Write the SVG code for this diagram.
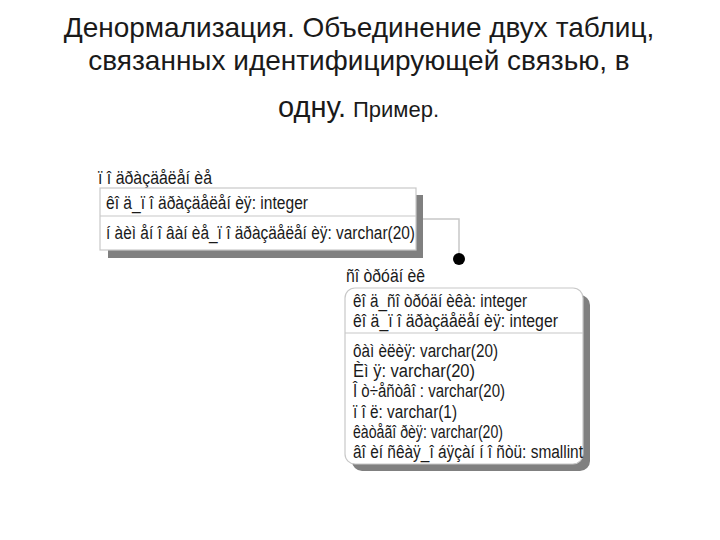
<svg xmlns="http://www.w3.org/2000/svg" width="720" height="540" viewBox="0 0 720 540">
<style>
.ttl{font-family:"Liberation Sans",Arial,sans-serif;font-size:28px;fill:#1a1a1a;text-anchor:middle}
.t{font-family:"Liberation Sans",Arial,sans-serif;font-size:18px;fill:#1a1a1a}
.box{fill:#ffffff;stroke:#c8c8c8;stroke-width:1.2}
.sh{fill:#808080}
.div{stroke:#c8c8c8;stroke-width:1.2}
.conn{fill:none;stroke:#c8c8c8;stroke-width:1.5}
</style>
<rect width="720" height="540" fill="#ffffff"/>
<g id="title">
<text class="ttl" x="359" y="37">Денормализация. Объединение двух таблиц,</text>
<text class="ttl" x="359" y="70">связанных идентифицирующей связью, в</text>
<text x="278" y="117" font-family="'Liberation Sans',Arial,sans-serif" font-size="29" fill="#1a1a1a">одну.</text>
<text x="353" y="117" font-family="'Liberation Sans',Arial,sans-serif" font-size="22" fill="#1a1a1a">Пример.</text>
</g>
<g id="connectors">
<polyline class="conn" points="423,219 459,219 459,258"/>
<circle cx="459" cy="259" r="6" fill="#000"/>
</g>
<g id="podrazdelenie">
<text class="t" x="98" y="184" textLength="114" lengthAdjust="spacingAndGlyphs">ï î äðàçäåëåí èå</text>
<rect class="sh" x="108" y="195" width="315" height="63"/>
<rect class="box" x="100" y="188" width="316" height="62"/>
<line class="div" x1="100" y1="216" x2="416" y2="216"/>
<text class="t" x="106" y="209" textLength="202" lengthAdjust="spacingAndGlyphs">êî ä_ï î äðàçäåëåí èÿ: integer</text>
<text class="t" x="106" y="239" textLength="309" lengthAdjust="spacingAndGlyphs">í àèì  åí î âàí èå_ï î äðàçäåëåí èÿ: varchar(20)</text>
</g>
<g id="sotrudnik">
<text class="t" x="346" y="282" textLength="79" lengthAdjust="spacingAndGlyphs">ñî òðóäí èê</text>
<rect class="sh" x="352" y="295" width="238" height="176" rx="10"/>
<rect class="box" x="345" y="288" width="238" height="176" rx="10"/>
<line class="div" x1="345" y1="333" x2="583" y2="333"/>
<text class="t" x="353" y="307" textLength="174" lengthAdjust="spacingAndGlyphs">êî ä_ñî òðóäí èêà: integer</text>
<text class="t" x="353" y="327" textLength="205" lengthAdjust="spacingAndGlyphs">êî ä_ï î äðàçäåëåí èÿ: integer</text>
<text class="t" x="353" y="357" textLength="145" lengthAdjust="spacingAndGlyphs">ôàì  èëèÿ: varchar(20)</text>
<text class="t" x="353" y="377" textLength="122" lengthAdjust="spacingAndGlyphs">Èì  ÿ: varchar(20)</text>
<text class="t" x="353" y="397" textLength="152" lengthAdjust="spacingAndGlyphs">Î ò÷åñòâî : varchar(20)</text>
<text class="t" x="353" y="418" textLength="104" lengthAdjust="spacingAndGlyphs">ï î ë: varchar(1)</text>
<text class="t" x="353" y="438" textLength="150" lengthAdjust="spacingAndGlyphs">êàòåãî ðèÿ: varchar(20)</text>
<text class="t" x="353" y="458" textLength="230" lengthAdjust="spacingAndGlyphs">âî èí ñêàÿ_î áÿçàí í î ñòü: smallint</text>
</g>
</svg>
